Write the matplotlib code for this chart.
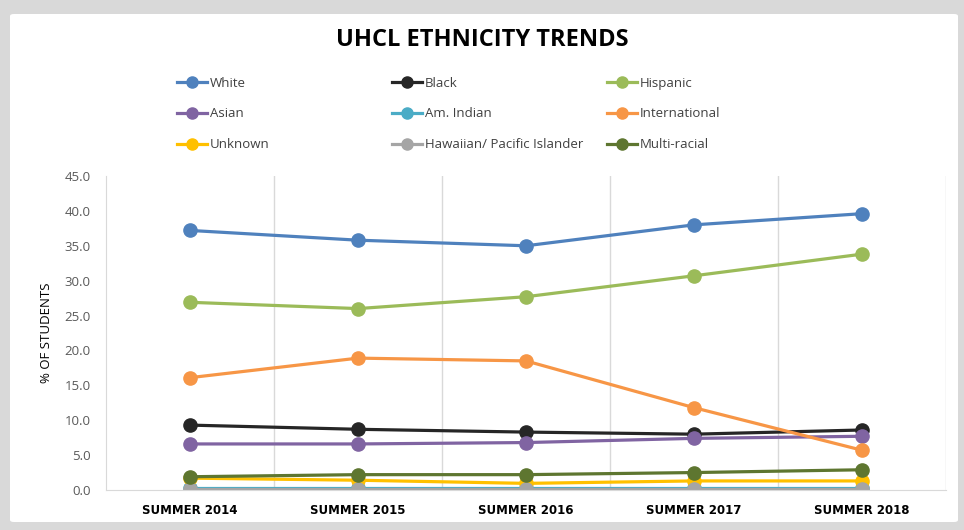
import matplotlib.pyplot as plt
from matplotlib.patches import FancyBboxPatch
from matplotlib.lines import Line2D

plt.rcParams["font.family"] = ["Open Sans", "DejaVu Sans"]

# Data
years = ["SUMMER 2014", "SUMMER 2015", "SUMMER 2016", "SUMMER 2017", "SUMMER 2018"]
white = [37.2, 35.8, 35.0, 38.0, 39.6]
black = [9.3, 8.7, 8.3, 8.0, 8.6]
hispanic = [26.9, 26.0, 27.7, 30.7, 33.8]
asian = [6.6, 6.6, 6.8, 7.4, 7.7]
am_indian = [0.3, 0.3, 0.3, 0.3, 0.3]
international = [16.1, 18.9, 18.5, 11.8, 5.7]
unknown = [1.7, 1.4, 0.95, 1.3, 1.3]
hawaiian = [0.1, 0.1, 0.1, 0.1, 0.1]
multi = [1.9, 2.2, 2.2, 2.5, 2.9]

series = [
    ("White", white, "#4F81BD"),
    ("Black", black, "#262626"),
    ("Hispanic", hispanic, "#9BBB59"),
    ("Asian", asian, "#8064A2"),
    ("Am. Indian", am_indian, "#4BACC6"),
    ("International", international, "#F79646"),
    ("Unknown", unknown, "#FFC000"),
    ("Hawaiian/ Pacific Islander", hawaiian, "#A5A5A5"),
    ("Multi-racial", multi, "#5E7630"),
]

fig = plt.figure(figsize=(9.64, 5.30), dpi=100)
fig.patch.set_facecolor("#D9D9D9")
panel = FancyBboxPatch((10 / 964, 8 / 530), 948 / 964, 508 / 530,
                       boxstyle="round,pad=0,rounding_size=0.004",
                       transform=fig.transFigure, facecolor="white",
                       edgecolor="none", zorder=-10)
fig.patches.append(panel)

ax = fig.add_axes([106 / 964, 40 / 530, 840 / 964, 314 / 530])
ax.set_facecolor("none")
ax.set_zorder(5)

x = list(range(len(years)))
handles = {}
for name, vals, col in series:
    (ln,) = ax.plot(x, vals, color=col, lw=2.3, marker="o", markersize=9.5,
                    solid_capstyle="round", label=name)
    handles[name] = ln

ax.set_xlim(-0.5, len(years) - 0.5)
ax.set_ylim(0, 45)
ax.set_yticks([0, 5, 10, 15, 20, 25, 30, 35, 40, 45])
ax.set_yticklabels([f"{v:.1f}" for v in ax.get_yticks()], color="#595959",
                   fontsize=9.5)
ax.set_xticks(x)
ax.set_xticklabels(years, fontsize=8.5, fontweight="bold", color="black",
                   family=["DejaVu Sans"])
ax.tick_params(axis="both", length=0)
ax.tick_params(axis="y", pad=11)
ax.tick_params(axis="x", pad=10)

for xv in [i + 0.5 for i in range(len(years))]:
    ax.axvline(xv, color="#D9D9D9", lw=1, zorder=0)
for s in ["top", "right"]:
    ax.spines[s].set_visible(False)
ax.spines["left"].set_color("#D9D9D9")
ax.spines["bottom"].set_color("#D9D9D9")

ax.set_ylabel("% OF STUDENTS", fontsize=9.5, labelpad=8)

fig.text(0.5, 1 - 40 / 530, "UHCL ETHNICITY TRENDS", ha="center", va="center",
         fontsize=17, fontweight="bold")

# legend in three columns, placed like the reference
cols = [["White", "Asian", "Unknown"],
        ["Black", "Am. Indian", "Hawaiian/ Pacific Islander"],
        ["Hispanic", "International", "Multi-racial"]]
for xpix, names in zip([170, 385, 600], cols):
    hs = [Line2D([], [], color=handles[n].get_color(), lw=2.3, marker="o",
                 markersize=8) for n in names]
    fig.legend(hs, names, loc="upper left",
               bbox_to_anchor=(xpix / 964, 1 - 70 / 530), frameon=False,
               fontsize=9.5, handlelength=2.3, handletextpad=0.2,
               labelspacing=1.35, borderpad=0, labelcolor="#404040")

fig.savefig("out.png", dpi=100, facecolor=fig.get_facecolor())
